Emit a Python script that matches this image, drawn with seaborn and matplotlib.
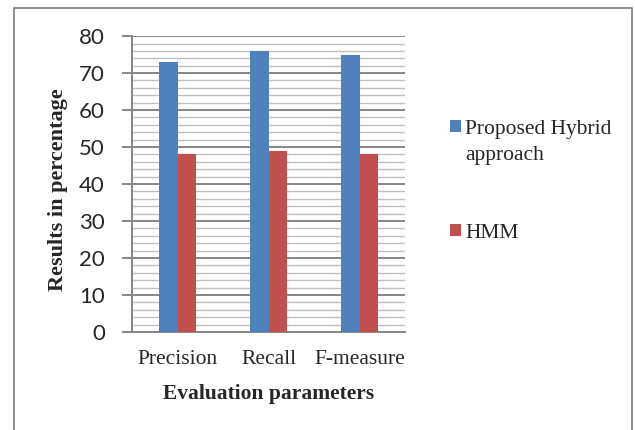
import numpy as np
import pandas as pd
import seaborn as sns
import matplotlib.pyplot as plt
from matplotlib.patches import Patch, Rectangle
from matplotlib.ticker import MultipleLocator

# data
categories = ["Precision", "Recall", "F-measure"]
series_names = ["Proposed Hybrid\napproach", "HMM"]
hybrid_values = [73, 76, 75]
hmm_values = [48, 49, 48]
colors = ["#4F81BD", "#C0504D"]

df = pd.DataFrame({
    "param": categories * 2,
    "value": hybrid_values + hmm_values,
    "method": [series_names[0]] * 3 + [series_names[1]] * 3,
})

sns.set_style("white")

fig = plt.figure(figsize=(6.35, 4.3), dpi=100)
ax = fig.add_axes([0.208, 0.228, 0.430, 0.688])

sns.barplot(data=df, x="param", y="value", hue="method", palette=colors,
            width=0.4, gap=0, linewidth=0, saturation=1, ax=ax, legend=False, zorder=3)

ax.set_xlim(-0.5, 2.5)
ax.set_ylim(0, 80)
ax.yaxis.set_major_locator(MultipleLocator(10))
ax.yaxis.set_minor_locator(MultipleLocator(2))
ax.grid(axis="y", which="major", color="#868686", linewidth=1.4, zorder=0)
ax.grid(axis="y", which="minor", color="#BFBFBF", linewidth=1.0, zorder=0)
ax.set_axisbelow(True)

for side in ["top", "right"]:
    ax.spines[side].set_visible(False)
for side in ["left", "bottom"]:
    ax.spines[side].set_color("#868686")
    ax.spines[side].set_linewidth(1.4)

ax.tick_params(axis="y", which="major", direction="out", length=7, width=1.4,
               color="#868686", pad=12.5, labelsize=16, left=True)
ax.tick_params(axis="y", which="minor", length=0)
ax.tick_params(axis="x", length=0, pad=13)
for lab in ax.get_yticklabels():
    lab.set_fontfamily(["Lato", "DejaVu Sans"])
for lab in ax.get_xticklabels():
    lab.set_fontfamily("Liberation Serif")
    lab.set_fontsize(15.5)

ax.set_xlabel("Evaluation parameters", fontfamily="Liberation Serif",
              fontweight="bold", fontsize=15.5, labelpad=11)
ax.set_ylabel("Results in percentage", fontfamily="Liberation Serif",
              fontweight="bold", fontsize=16)
ax.yaxis.set_label_coords(-0.234, 0.48)

handles = [Patch(facecolor=c, edgecolor="none") for c in colors]
leg = fig.legend(handles, series_names, loc="upper left", bbox_to_anchor=(450 / 635, 1 - 120 / 430),
                 frameon=False, handlelength=0.5, handleheight=0.5, handletextpad=0.2,
                 borderpad=0, borderaxespad=0, labelspacing=2.75,
                 prop={"family": "Liberation Serif", "size": 15.5})
for t in leg.get_texts():
    t.set_linespacing(1.5)
# put the colour square next to the first line of each label
for row in leg._legend_handle_box.get_children():
    for hp in row.get_children():
        hp.align = "top"

# outer chart border like the original
fig.patches.append(Rectangle((14 / 635, -0.1), 618 / 635, 1.1 - 8 / 430,
                             transform=fig.transFigure, fill=False,
                             edgecolor="#868686", linewidth=1.3))

fig.savefig("out.png", dpi=100)
